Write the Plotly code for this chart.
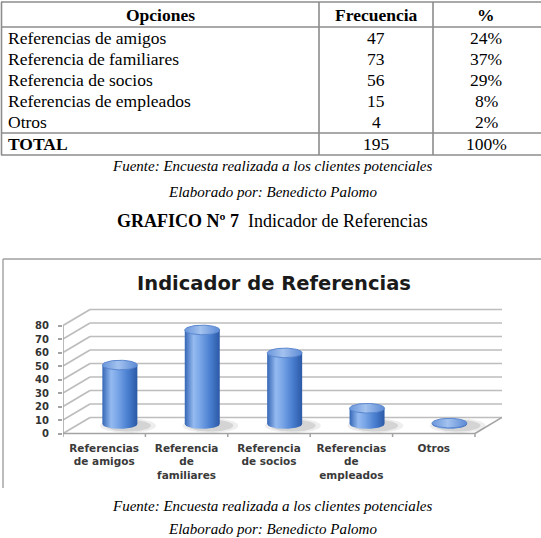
import numpy as np
import plotly.graph_objects as go

# ---------------- data ----------------
categories = ["Referencias de amigos", "Referencia de familiares", "Referencia de socios",
              "Referencias de empleados", "Otros"]
axis_labels = ["Referencias<br>de amigos", "Referencia<br>de<br>familiares", "Referencia<br>de socios",
               "Referencias<br>de<br>empleados", "Otros"]
frecuencia = [47, 73, 56, 15, 4]
porcentaje = [24, 37, 29, 8, 2]
y_ticks = [0, 10, 20, 30, 40, 50, 60, 70, 80]

total_freq = sum(frecuencia)
total_pct = sum(porcentaje)

# ---------------- geometry (pixels) ----------------
W, H = 541, 538
PL, PR, PT, PB = 63, 502, 308, 438          # plot area box in pixels
FLOOR_Y = 433.5                             # pixel of value 0 at the front
KY = 1.35                                   # pixels per value unit
CAT_W = 82.4                                # pixels per category
DX = 27 / CAT_W                             # depth offset (x, data units)
DY = 16 / KY                                # depth offset (y, data units)
Y0 = -(PB - FLOOR_Y) / KY
Y1 = (FLOOR_Y - PT) / KY
X0 = -0.5
X1 = len(categories) - 0.5 + DX


def px(x):
    return (x - PL) / (PR - PL)


def py(y):
    return (PB - y) / (PB - PT)


fig = go.Figure()

# ---------------- 3D-like walls / grid ----------------
gx, gy = [], []
for v in y_ticks:
    gx += [X0 + DX, len(categories) - 0.5 + DX, None]
    gy += [v + DY, v + DY, None]
    gx += [X0, X0 + DX, None]
    gy += [v, v + DY, None]
fig.add_trace(go.Scatter(x=gx, y=gy, mode="lines", line=dict(color="#bdbdbd", width=1.7),
                         hoverinfo="skip", showlegend=False))

ax, ay = [], []
ax += [X0, len(categories) - 0.5, None, len(categories) - 0.5, len(categories) - 0.5 + DX, None]
ay += [0, 0, None, 0, DY, None]
ax += [X0, X0, None]
ay += [0, y_ticks[-1], None]
for k in range(len(categories) + 1):
    ax += [k - 0.5, k - 0.5, None]
    ay += [0, -3.5 / KY, None]
fig.add_trace(go.Scatter(x=ax, y=ay, mode="lines", line=dict(color="#a3a3a3", width=1.5),
                         hoverinfo="skip", showlegend=False, cliponaxis=False))

# ---------------- cylinders ----------------
R = 17.5 / CAT_W
B = 4.8 / KY
t_half = np.linspace(0, np.pi, 40)
t_full = np.linspace(0, 2 * np.pi, 80)
BASE = 7.0
TOP_OFF = 3.7
for i, v in enumerate(frecuencia):
    cx = i + DX * 0.58
    top = v + TOP_OFF
    # shadow
    for sc, alpha in [(1.6, 0.09), (1.3, 0.15)]:
        sx = cx + 0.1 + R * sc * np.cos(t_full)
        sy = BASE - 1.2 + B * sc * 0.95 * np.sin(t_full)
        fig.add_trace(go.Scatter(x=sx, y=sy, mode="lines", fill="toself",
                                 fillcolor=f"rgba(70,70,70,{alpha})", line=dict(width=0),
                                 hoverinfo="skip", showlegend=False))
    # body
    bx = [cx - R, cx + R] + list(cx + R * np.cos(t_half)) + [cx - R]
    by = [top, top] + list(BASE - B * np.sin(t_half)) + [top]
    fig.add_trace(go.Scatter(
        x=bx, y=by, mode="lines", fill="toself", line=dict(width=0),
        fillgradient=dict(type="horizontal",
                          colorscale=[[0, "#3566b6"], [0.25, "#94baf0"], [0.42, "#7ca8e8"],
                                      [0.72, "#4a7fd0"], [1, "#2b59a6"]]),
        hoverinfo="skip", showlegend=False))
    # top ellipse
    ex = cx + R * np.cos(t_full)
    ey = top + B * np.sin(t_full)
    fig.add_trace(go.Scatter(
        x=ex, y=ey, mode="lines", fill="toself", line=dict(width=1, color="#5b87cf"),
        fillgradient=dict(type="horizontal",
                          colorscale=[[0, "#6b97dc"], [0.45, "#a3c2ee"], [1, "#5c8ad6"]]),
        hovertext=f"{categories[i]}: {v}", hoverinfo="text", showlegend=False))

# ---------------- axes ----------------
tick_font = dict(family="DejaVu Sans", size=10, color="#333333", weight="bold")
cat_font = dict(family="DejaVu Sans", size=10.5, color="#3a3a3a", weight="bold")
fig.update_xaxes(range=[X0, X1], tickvals=list(range(len(categories))), ticktext=axis_labels,
                 ticks="", showgrid=False, zeroline=False, showline=False, tickfont=cat_font,
                 fixedrange=True, ticklabelstandoff=2)
fig.update_yaxes(range=[Y0, Y1], tickvals=y_ticks, ticks="outside", ticklen=4, tickcolor="#a3a3a3",
                 tickwidth=1.5, showgrid=False, zeroline=False, showline=False, tickfont=tick_font,
                 fixedrange=True, ticklabelstandoff=7)

# ---------------- table ----------------
shapes = []
line_style = dict(color="#8c8c8c", width=1.6)
for yy in [2, 27, 133, 155]:
    shapes.append(dict(type="line", xref="paper", yref="paper", x0=px(1), x1=px(545),
                       y0=py(yy), y1=py(yy), line=line_style))
for xx in [1.5, 319, 433]:
    shapes.append(dict(type="line", xref="paper", yref="paper", x0=px(xx), x1=px(xx),
                       y0=py(2), y1=py(155), line=line_style))
# chart frame
frame_style = dict(color="#a0a0a0", width=1.4)
shapes.append(dict(type="line", xref="paper", yref="paper", x0=px(3), x1=px(545),
                   y0=py(259), y1=py(259), line=frame_style))
shapes.append(dict(type="line", xref="paper", yref="paper", x0=px(3), x1=px(3),
                   y0=py(259), y1=py(488), line=frame_style))

annotations = []
serif = "Liberation Serif"


def add_text(text, x, y, size, anchor="center", color="black", family=serif):
    annotations.append(dict(text=text, x=px(x), y=py(y), xref="paper", yref="paper",
                            xanchor=anchor, yanchor="middle", showarrow=False,
                            font=dict(family=family, size=size, color=color)))


COL1, COL2, COL3 = 160, 376, 486
TS = 17.5
add_text("<b>Opciones</b>", COL1, 14.5, TS)
add_text("<b>Frecuencia</b>", COL2, 14.5, TS)
add_text("<b>%</b>", COL3, 14.5, TS)
row_y = [37.6, 58.8, 80.0, 101.2, 122.4]
for i, cat in enumerate(categories):
    add_text(cat, 6, row_y[i], TS, anchor="left")
    add_text(str(frecuencia[i]), COL2, row_y[i], TS)
    add_text(f"{porcentaje[i]}%", COL3, row_y[i], TS)
add_text("<b>TOTAL</b>", 6, 144, TS, anchor="left")
add_text(str(total_freq), COL2, 144, TS)
add_text(f"{total_pct}%", COL3, 144, TS)

add_text("<i>Fuente: Encuesta realizada a los clientes potenciales</i>", 272, 166, 15)
add_text("<i>Elaborado por: Benedicto Palomo</i>", 272, 192, 15)
add_text("<b>GRAFICO Nº 7</b>  Indicador de Referencias", 272, 221, 18)

add_text("<b>Indicador de Referencias</b>", 274, 283, 19.5, family="DejaVu Sans", color="#1a1a1a")

add_text("<i>Fuente: Encuesta realizada a los clientes potenciales</i>", 272, 506, 15)
add_text("<i>Elaborado por: Benedicto Palomo</i>", 272, 529, 15)

fig.update_layout(
    width=W, height=H, autosize=False,
    margin=dict(l=PL, r=W - PR, t=PT, b=H - PB, pad=0),
    paper_bgcolor="white", plot_bgcolor="rgba(0,0,0,0)",
    shapes=shapes, annotations=annotations, showlegend=False,
)

fig.write_html("out.html")
